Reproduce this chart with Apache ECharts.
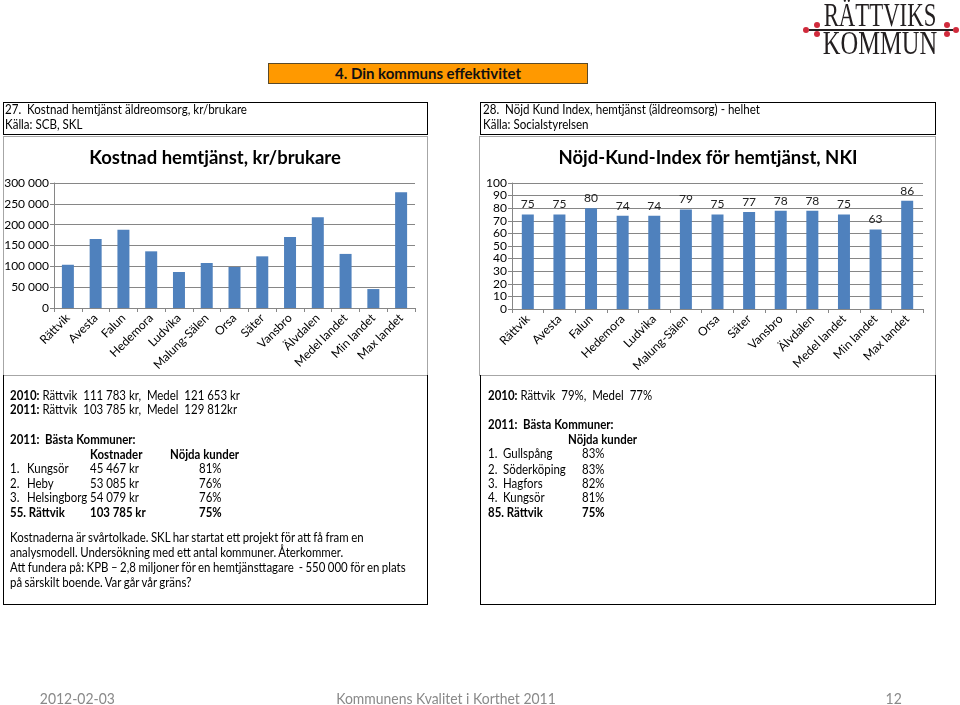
<!DOCTYPE html>
<html>
<head>
<meta charset="utf-8">
<script src="https://cdn.jsdelivr.net/npm/echarts@6/dist/echarts.min.js"></script>
<style>
html, body { margin: 0; padding: 0; background: #fff; }
#page { position: relative; width: 960px; height: 705px; overflow: hidden; font-family: Lato, 'Noto Sans', sans-serif; color: #000; }
#chart { position: absolute; left: 0; top: 0; width: 960px; height: 705px; }
.box { position: absolute; box-sizing: border-box; }
.t { position: absolute; white-space: nowrap; font-size: 13px; line-height: 16px; transform: scaleX(0.88); transform-origin: left center; }
.hd { position: absolute; white-space: nowrap; font-size: 13px; line-height: 15px; transform: scaleX(0.89); transform-origin: left center; }
.p { word-spacing: -0.5px; }
.foot { position: absolute; top: 689px; font-size: 15px; line-height: 18px; color: #898989; white-space: nowrap; transform: scaleX(0.93); }
.lw { position: absolute; font-family: 'Liberation Serif', serif; font-size: 34px; line-height: 34px; color: #231f20; white-space: nowrap; transform-origin: center; left: 790px; width: 180px; text-align: center; }
.dot { position: absolute; width: 6px; height: 6px; border-radius: 3px; background: #d02b3c; }
</style>
</head>
<body>
<div id="page">
  <div id="chart"></div>

  <!-- logo -->
  <div class="lw" style="top:-2px;transform:scaleX(0.67)">RÄTTVIKS</div>
  <div class="lw" style="top:26px;transform:scaleX(0.72)">KOMMUN</div>
  <div class="box" style="left:809px;top:29px;width:144px;height:2px;background:#231f20"></div>
  <div class="dot" style="left:803px;top:27px"></div>
  <div class="dot" style="left:814px;top:22px"></div>
  <div class="dot" style="left:814px;top:31px"></div>
  <div class="dot" style="left:944px;top:22px"></div>
  <div class="dot" style="left:944px;top:31px"></div>
  <div class="dot" style="left:953px;top:27px"></div>

  <!-- banner -->
  <div class="box" style="left:268px;top:63px;width:320px;height:21px;background:#ff9900;border:1px solid #5a4a2a;font-weight:bold;font-size:15px;line-height:19px;text-align:center;color:#111">4. Din kommuns effektivitet</div>

  <!-- header boxes -->
  <div class="box" style="left:3px;top:102px;width:425px;height:33px;border:1px solid #000"></div>
  <div class="hd" style="left:5px;top:102px">27.&nbsp; Kostnad hemtjänst äldreomsorg, kr/brukare</div>
  <div class="hd" style="left:5px;top:117px">Källa: SCB, SKL</div>
  <div class="box" style="left:480px;top:102px;width:456px;height:33px;border:1px solid #000"></div>
  <div class="hd" style="left:483px;top:102px">28.&nbsp; Nöjd Kund Index, hemtjänst (äldreomsorg) - helhet</div>
  <div class="hd" style="left:483px;top:117px">Källa: Socialstyrelsen</div>

  <!-- chart panels -->
  <div class="box" style="left:3px;top:136px;width:425px;height:240px;border:1px solid #a6a6a6"></div>
  <div class="box" style="left:479px;top:136px;width:457px;height:240px;border:1px solid #a6a6a6"></div>

  <!-- text boxes -->
  <div class="box" style="left:3px;top:375px;width:425px;height:230px;border:1px solid #000;border-top:none"></div>
  <div class="box" style="left:480px;top:375px;width:456px;height:230px;border:1px solid #000;border-top:none"></div>

  <div class="t" style="left:10px;top:387px"><b>2010:</b> Rättvik&nbsp; 111 783 kr,&nbsp; Medel&nbsp; 121 653 kr</div>
  <div class="t" style="left:10px;top:401px"><b>2011:</b> Rättvik&nbsp; 103 785 kr,&nbsp; Medel&nbsp; 129 812kr</div>
  <div class="t" style="left:10px;top:431px"><b>2011:&nbsp; Bästa Kommuner:</b></div>
  <div class="t" style="left:90px;top:446px"><b>Kostnader</b></div>
  <div class="t" style="left:170px;top:446px"><b>Nöjda kunder</b></div>
  <div class="t" style="left:10px;top:460px">1.</div><div class="t" style="left:27px;top:460px">Kungsör</div><div class="t" style="left:90px;top:460px">45 467 kr</div><div class="t" style="left:199px;top:460px">81%</div>
  <div class="t" style="left:10px;top:475px">2.</div><div class="t" style="left:27px;top:475px">Heby</div><div class="t" style="left:90px;top:475px">53 085 kr</div><div class="t" style="left:199px;top:475px">76%</div>
  <div class="t" style="left:10px;top:489px">3.</div><div class="t" style="left:27px;top:489px">Helsingborg</div><div class="t" style="left:90px;top:489px">54 079 kr</div><div class="t" style="left:199px;top:489px">76%</div>
  <div class="t" style="left:10px;top:504px"><b>55. Rättvik</b></div><div class="t" style="left:90px;top:504px"><b>103 785 kr</b></div><div class="t" style="left:199px;top:504px"><b>75%</b></div>
  <div class="t p" style="left:10px;top:529px">Kostnaderna är svårtolkade. SKL har startat ett projekt för att få fram en</div>
  <div class="t p" style="left:10px;top:544px">analysmodell. Undersökning med ett antal kommuner. Återkommer.</div>
  <div class="t p" style="left:10px;top:559px">Att fundera på: KPB – 2,8 miljoner för en hemtjänsttagare&nbsp; - 550 000 för en plats</div>
  <div class="t p" style="left:10px;top:574px">på särskilt boende. Var går vår gräns?</div>

  <div class="t" style="left:488px;top:387px"><b>2010:</b> Rättvik&nbsp; 79%,&nbsp; Medel&nbsp; 77%</div>
  <div class="t" style="left:488px;top:416px"><b>2011:&nbsp; Bästa Kommuner:</b></div>
  <div class="t" style="left:568px;top:431px"><b>Nöjda kunder</b></div>
  <div class="t" style="left:488px;top:445px">1.</div><div class="t" style="left:503px;top:445px">Gullspång</div><div class="t" style="left:582px;top:445px">83%</div>
  <div class="t" style="left:488px;top:461px">2.</div><div class="t" style="left:503px;top:461px">Söderköping</div><div class="t" style="left:582px;top:461px">83%</div>
  <div class="t" style="left:488px;top:475px">3.</div><div class="t" style="left:503px;top:475px">Hagfors</div><div class="t" style="left:582px;top:475px">82%</div>
  <div class="t" style="left:488px;top:489px">4.</div><div class="t" style="left:503px;top:489px">Kungsör</div><div class="t" style="left:582px;top:489px">81%</div>
  <div class="t" style="left:488px;top:504px"><b>85. Rättvik</b></div><div class="t" style="left:582px;top:504px"><b>75%</b></div>

  <!-- footer -->
  <div class="foot" style="left:37px">2012-02-03</div>
  <div class="foot" style="left:296px;width:300px;text-align:center">Kommunens Kvalitet i Korthet 2011</div>
  <div class="foot" style="left:885px">12</div>
</div>

<script>
var kommuner = ['Rättvik', 'Avesta', 'Falun', 'Hedemora', 'Ludvika', 'Malung-Sälen', 'Orsa',
                'Säter', 'Vansbro', 'Älvdalen', 'Medel landet', 'Min landet', 'Max landet'];
// kr per brukare 2011
var kostnad = [103785, 165600, 188000, 136000, 86400, 108000, 98400,
               124000, 170400, 217600, 129812, 45467, 277600];
// NKI helhet
var nki = [75, 75, 80, 74, 74, 79, 75, 77, 78, 78, 75, 63, 86];

var kostnadTicks = { min: 0, max: 300000, step: 50000 };
var nkiTicks = { min: 0, max: 100, step: 10 };

var titles = ['Kostnad hemtjänst, kr/brukare', 'Nöjd-Kund-Index för hemtjänst, NKI'];

var chart = echarts.init(document.getElementById('chart'));

var grey = '#868686';
var barBlue = '#4f81bd';
var font = 'Lato';

function spaced(v) {
	return String(v).replace(/\B(?=(\d{3})+(?!\d))/g, ' ');
}

function catAxis(idx) {
	return {
		type: 'category',
		gridIndex: idx,
		data: kommuner,
		axisLine: { lineStyle: { color: grey } },
		axisTick: { show: true, length: 4, lineStyle: { color: grey } },
		axisLabel: { interval: 0, rotate: 45, fontSize: 12, color: '#000', fontFamily: font, margin: 8 }
	};
}

function valAxis(idx, t, fmt) {
	return {
		type: 'value',
		gridIndex: idx,
		min: t.min,
		max: t.max,
		interval: t.step,
		axisLine: { show: true, lineStyle: { color: grey } },
		axisTick: { show: true, length: 4, lineStyle: { color: grey } },
		splitLine: { lineStyle: { color: grey } },
		axisLabel: { fontSize: 12, color: '#000', fontFamily: font, margin: 5, formatter: fmt }
	};
}

var option = {
	animation: false,
	grid: [
		{ left: 54, top: 183, width: 361, height: 125 },
		{ left: 512, top: 183, width: 411, height: 126 }
	],
	xAxis: [catAxis(0), catAxis(1)],
	yAxis: [valAxis(0, kostnadTicks, spaced), valAxis(1, nkiTicks, null)],
	graphic: [
		{ type: 'text', x: 215, y: 158, style: { text: titles[0], textAlign: 'center', textVerticalAlign: 'middle', font: 'bold 18.5px Lato', fill: '#000' } },
		{ type: 'text', x: 708, y: 158, style: { text: titles[1], textAlign: 'center', textVerticalAlign: 'middle', font: 'bold 18.5px Lato', fill: '#000' } }
	],
	series: [
		{
			type: 'bar',
			xAxisIndex: 0,
			yAxisIndex: 0,
			data: kostnad,
			barWidth: 12,
			itemStyle: { color: barBlue }
		},
		{
			type: 'bar',
			xAxisIndex: 1,
			yAxisIndex: 1,
			data: nki,
			barWidth: 12,
			itemStyle: { color: barBlue },
			label: { show: true, position: 'top', distance: 4, fontSize: 12, color: '#222', fontFamily: font }
		}
	]
};

chart.setOption(option);
</script>
</body>
</html>
